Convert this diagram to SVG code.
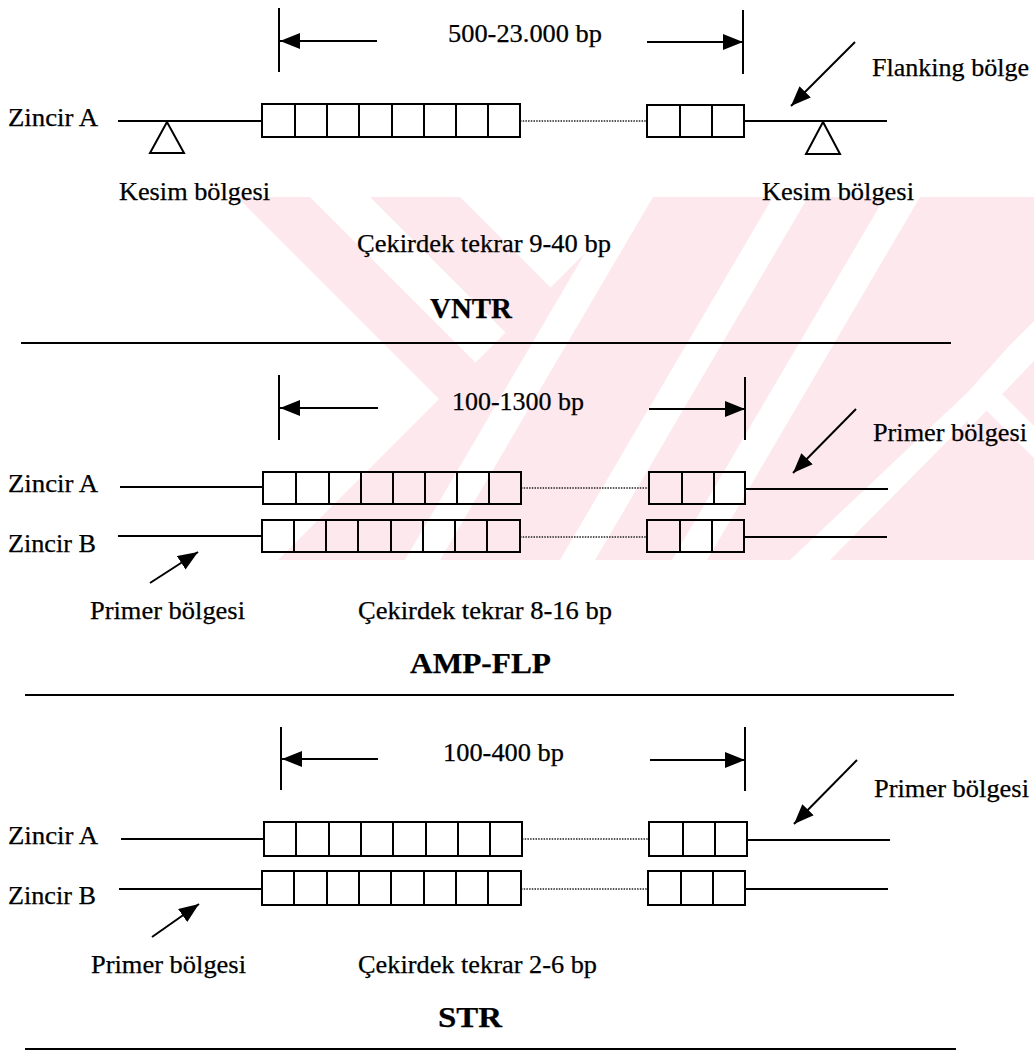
<svg xmlns="http://www.w3.org/2000/svg" width="1034" height="1051" viewBox="0 0 1034 1051">
<style>
.t{font-family:"Liberation Serif","Times New Roman",Times,serif;font-size:25px;fill:#000;stroke:#000;stroke-width:0.25}
.b{font-weight:bold;font-size:29px}
.ln{stroke:#000;stroke-width:2;fill:none}
.tick{stroke:#000;stroke-width:2;fill:none}
.dot{stroke:#222;stroke-width:1.6;stroke-dasharray:1.5 1.2;fill:none}
.box{fill:none;stroke:#000;stroke-width:2}
.tri{fill:none;stroke:#000;stroke-width:2;stroke-linejoin:miter}
.arr{stroke:#000;stroke-width:2;fill:none;marker-end:url(#ah)}
.wm{fill:#fde9ed}
.wg{fill:#fff}
</style>
<defs>
<marker id="ah" viewBox="0 0 20 16" markerWidth="20" markerHeight="16" refX="20" refY="8" orient="auto" markerUnits="userSpaceOnUse">
<path d="M0,0 L20,8 L0,16 z" fill="#000"/>
</marker>
<clipPath id="wmclip"><rect x="180" y="197" width="854" height="363"/></clipPath>
</defs>
<rect width="1034" height="1051" fill="#fff"/>
<g id="watermark" clip-path="url(#wmclip)">
<polygon class="wm" points="237,197 310,197 673,560 600,560"/>
<polygon class="wm" points="370,197 460,197 823,560 733,560"/>
<polygon class="wm" points="641,197 1034,197 1034,560 278,560"/>
<polygon class="wg" points="405,560 440,560 653,197 618,197"/>
<polygon class="wg" points="560,560 595,560 808,197 773,197"/>
<polygon class="wg" points="672,560 707,560 920,197 885,197"/>
<polygon class="wg" points="1010,345 1034,321 1034,361 1030,365 968,430 968,392"/>
<polygon class="wg" points="968,392 1000,392 1168,560 1136,560"/>
<polygon class="wg" points="968,392 988,400 830,560 790,560"/>
</g>

<g id="vntr">
<g id="vntr-dim"><path class="tick" d="M279,8V72M743,10V74"/></g>
<text class="t" x="448" y="42" textLength="154" lengthAdjust="spacingAndGlyphs">500-23.000 bp</text>
<text class="t" x="8" y="126" textLength="90" lengthAdjust="spacingAndGlyphs">Zincir A</text>
<text class="t" x="872" y="76" textLength="157" lengthAdjust="spacingAndGlyphs">Flanking bölge</text>
<g id="vntr-chainA">
<path class="ln" d="M118,121H262M744,121H887"/>
<path class="dot" d="M520,121H647"/>
<rect class="box" x="262" y="104" width="258" height="33"/>
<path class="ln" d="M295,104V137M327,104V137M359,104V137M392,104V137M424,104V137M456,104V137M488,104V137"/>
<rect class="box" x="647" y="105" width="97" height="32"/>
<path class="ln" d="M680,105V137M712,105V137"/>
</g>
<g id="vntr-cut-left"><polygon class="tri" points="167,122 150,153 184,153"/></g>
<g id="vntr-cut-right"><polygon class="tri" points="823,122 806,154 840,154"/></g>
<text class="t" x="119" y="200" textLength="151" lengthAdjust="spacingAndGlyphs">Kesim bölgesi</text>
<text class="t" x="762" y="200" textLength="152" lengthAdjust="spacingAndGlyphs">Kesim bölgesi</text>
<text class="t" x="357" y="252" textLength="254" lengthAdjust="spacingAndGlyphs">Çekirdek tekrar 9-40 bp</text>
<text class="t b" x="430" y="318" textLength="82" lengthAdjust="spacingAndGlyphs">VNTR</text>
</g>

<g id="ampflp">
<g id="amp-dim"><path class="tick" d="M279,375V440M745,377V440"/></g>
<text class="t" x="452" y="410" textLength="132" lengthAdjust="spacingAndGlyphs">100-1300 bp</text>
<text class="t" x="873" y="441" textLength="154" lengthAdjust="spacingAndGlyphs">Primer bölgesi</text>
<text class="t" x="8" y="492" textLength="90" lengthAdjust="spacingAndGlyphs">Zincir A</text>
<text class="t" x="8" y="552" textLength="88" lengthAdjust="spacingAndGlyphs">Zincir B</text>
<g id="amp-chainA">
<path class="ln" d="M120,487H263M745,489H888"/>
<path class="dot" d="M521,488H649"/>
<rect class="box" x="263" y="472" width="258" height="32"/>
<path class="ln" d="M296,472V504M329,472V504M361,472V504M393,472V504M425,472V504M457,472V504M489,472V504"/>
<rect class="box" x="649" y="472" width="96" height="32"/>
<path class="ln" d="M682,472V504M714,472V504"/>
</g>
<g id="amp-chainB">
<path class="ln" d="M118,536H262M744,537H887"/>
<path class="dot" d="M520,537H647"/>
<rect class="box" x="262" y="520" width="258" height="32"/>
<path class="ln" d="M294,520V552M326,520V552M358,520V552M391,520V552M423,520V552M455,520V552M487,520V552"/>
<rect class="box" x="647" y="520" width="97" height="32"/>
<path class="ln" d="M680,520V552M712,520V552"/>
</g>
<text class="t" x="90" y="619" textLength="155" lengthAdjust="spacingAndGlyphs">Primer bölgesi</text>
<text class="t" x="358" y="619" textLength="254" lengthAdjust="spacingAndGlyphs">Çekirdek tekrar 8-16 bp</text>
<text class="t b" x="410" y="673" textLength="141" lengthAdjust="spacingAndGlyphs">AMP-FLP</text>
</g>

<g id="str">
<g id="str-dim"><path class="tick" d="M281,727V790M745,727V791"/></g>
<text class="t" x="443" y="761" textLength="121" lengthAdjust="spacingAndGlyphs">100-400 bp</text>
<text class="t" x="874" y="797" textLength="155" lengthAdjust="spacingAndGlyphs">Primer bölgesi</text>
<text class="t" x="8" y="844" textLength="90" lengthAdjust="spacingAndGlyphs">Zincir A</text>
<text class="t" x="8" y="904" textLength="88" lengthAdjust="spacingAndGlyphs">Zincir B</text>
<g id="str-chainA">
<path class="ln" d="M121,839H264M747,840H890"/>
<path class="dot" d="M522,839H649"/>
<rect class="box" x="264" y="822" width="258" height="34"/>
<path class="ln" d="M296,822V856M329,822V856M361,822V856M393,822V856M426,822V856M458,822V856M490,822V856"/>
<rect class="box" x="649" y="822" width="98" height="34"/>
<path class="ln" d="M683,822V856M715,822V856"/>
</g>
<g id="str-chainB">
<path class="ln" d="M119,889H262M745,889H888"/>
<path class="dot" d="M521,889H648"/>
<rect class="box" x="262" y="871" width="259" height="34"/>
<path class="ln" d="M294,871V905M327,871V905M359,871V905M391,871V905M424,871V905M456,871V905M488,871V905"/>
<rect class="box" x="648" y="871" width="97" height="34"/>
<path class="ln" d="M681,871V905M713,871V905"/>
</g>
<text class="t" x="91" y="973" textLength="155" lengthAdjust="spacingAndGlyphs">Primer bölgesi</text>
<text class="t" x="358" y="973" textLength="239" lengthAdjust="spacingAndGlyphs">Çekirdek tekrar 2-6 bp</text>
<text class="t b" x="438" y="1027" textLength="64" lengthAdjust="spacingAndGlyphs">STR</text>
</g>

<g id="separators">
<path class="ln" d="M21,343H951M25,695H954M25,1049H956"/>
</g>

<g id="connectors">
<line class="arr" x1="377" y1="41" x2="280" y2="41"/>
<line class="arr" x1="647" y1="42" x2="743" y2="42"/>
<line class="arr" x1="855" y1="42" x2="791" y2="106"/>
<line class="arr" x1="378" y1="408" x2="280" y2="408"/>
<line class="arr" x1="649" y1="409" x2="745" y2="409"/>
<line class="arr" x1="856" y1="409" x2="793" y2="473"/>
<line class="arr" x1="150" y1="583" x2="198" y2="552"/>
<line class="arr" x1="378" y1="759" x2="282" y2="759"/>
<line class="arr" x1="650" y1="760" x2="745" y2="760"/>
<line class="arr" x1="857" y1="760" x2="794" y2="824"/>
<line class="arr" x1="152" y1="937" x2="199" y2="904"/>
</g>
</svg>
